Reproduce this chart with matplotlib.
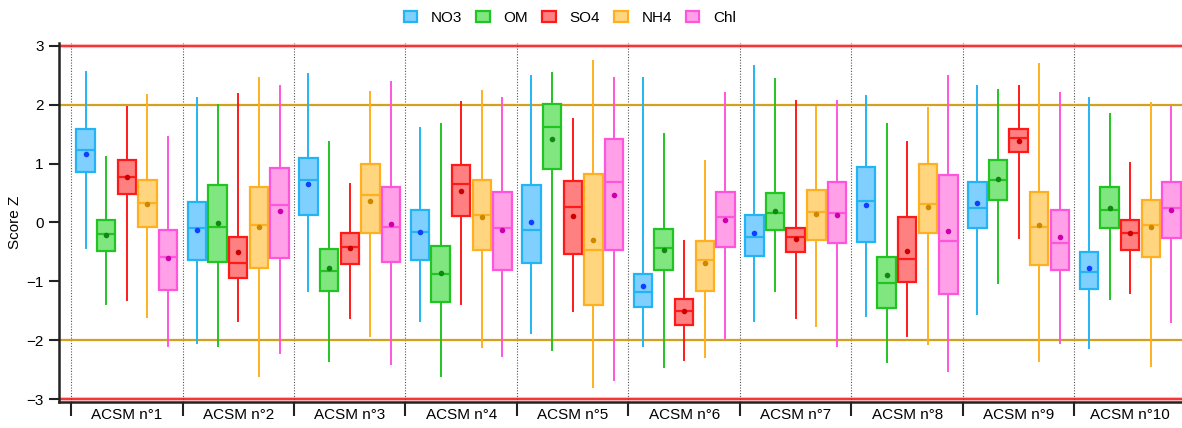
import matplotlib

matplotlib.use("Agg")
import matplotlib.pyplot as plt
from matplotlib.patches import Patch

plt.rcParams["font.family"] = ["Liberation Sans", "DejaVu Sans"]

groups = [f"ACSM n°{i}" for i in range(1, 11)]
species = ["NO3", "OM", "SO4", "NH4", "Chl"]

edge_colors = ["#22b4f5", "#22c422", "#ff1a1a", "#ffb020", "#ff55dd"]
face_colors = ["#80d0ff", "#80e680", "#ff8080", "#ffd580", "#ffa0e8"]
mean_colors = ["#1040ff", "#118811", "#cc0000", "#cc8800", "#cc00aa"]

# one row per ACSM, one column per species
whisker_hi = [
    [2.56, 1.12, 1.96, 2.17, 1.46],
    [2.11, 1.99, 2.19, 2.45, 2.31],
    [2.52, 1.37, 0.65, 2.21, 2.38],
    [1.60, 1.68, 2.05, 2.23, 2.11],
    [2.49, 2.54, 1.76, 2.74, 2.45],
    [2.45, 1.51, -0.31, 1.04, 2.20],
    [2.66, 2.44, 2.06, 1.96, 2.07],
    [2.15, 1.67, 1.37, 1.94, 2.48],
    [2.32, 2.25, 2.32, 2.69, 2.20],
    [2.12, 1.84, 1.01, 2.03, 1.97],
]
q3 = [
    [1.59, 0.05, 1.06, 0.72, -0.12],
    [0.34, 0.64, -0.25, 0.61, 0.93],
    [1.10, -0.45, -0.18, 1.00, 0.60],
    [0.21, -0.40, 0.98, 0.73, 0.52],
    [0.64, 2.01, 0.70, 0.82, 1.41],
    [-0.87, -0.11, -1.30, -0.32, 0.52],
    [0.12, 0.50, -0.09, 0.55, 0.68],
    [0.94, -0.58, 0.09, 0.99, 0.81],
    [0.69, 1.06, 1.58, 0.52, 0.22],
    [-0.50, 0.60, 0.05, 0.38, 0.69],
]
median = [
    [1.23, -0.20, 0.78, 0.33, -0.59],
    [-0.09, -0.07, -0.69, -0.04, 0.29],
    [0.73, -0.82, -0.42, 0.46, -0.07],
    [-0.16, -0.88, 0.65, 0.13, -0.09],
    [-0.13, 1.62, 0.26, -0.47, 0.68],
    [-1.18, -0.43, -1.50, -0.64, 0.09],
    [-0.25, 0.16, -0.25, 0.18, 0.16],
    [0.36, -1.02, -0.62, 0.31, -0.31],
    [0.25, 0.73, 1.43, -0.08, -0.35],
    [-0.84, 0.21, -0.18, -0.05, 0.25],
]
q1 = [
    [0.86, -0.48, 0.48, -0.08, -1.15],
    [-0.64, -0.67, -0.95, -0.77, -0.60],
    [0.13, -1.16, -0.70, -0.18, -0.67],
    [-0.64, -1.35, 0.11, -0.47, -0.81],
    [-0.69, 0.90, -0.53, -1.41, -0.46],
    [-1.43, -0.80, -1.74, -1.16, -0.42],
    [-0.57, -0.13, -0.50, -0.30, -0.35],
    [-0.34, -1.45, -1.01, -0.18, -1.21],
    [-0.10, 0.39, 1.20, -0.72, -0.80],
    [-1.13, -0.10, -0.46, -0.58, -0.27],
]
whisker_lo = [
    [-0.43, -1.38, -1.32, -1.60, -2.10],
    [-2.05, -2.10, -1.68, -2.60, -2.22],
    [-1.16, -2.36, -1.62, -1.92, -2.41],
    [-1.67, -2.61, -1.39, -2.11, -2.26],
    [-1.88, -2.17, -1.50, -2.80, -2.67],
    [-2.09, -2.46, -2.33, -2.29, -1.96],
    [-1.67, -1.17, -1.62, -1.76, -2.10],
    [-1.59, -2.37, -1.93, -2.06, -2.52],
    [-1.55, -1.03, -0.26, -2.36, -2.05],
    [-2.13, -1.30, -1.20, -2.44, -1.69],
]
mean = [
    [1.17, -0.21, 0.78, 0.32, -0.61],
    [-0.12, -0.01, -0.50, -0.07, 0.19],
    [0.65, -0.77, -0.43, 0.37, -0.03],
    [-0.17, -0.85, 0.53, 0.10, -0.13],
    [0.00, 1.41, 0.11, -0.29, 0.46],
    [-1.08, -0.46, -1.50, -0.69, 0.05],
    [-0.18, 0.20, -0.28, 0.15, 0.13],
    [0.29, -0.90, -0.48, 0.27, -0.14],
    [0.33, 0.74, 1.38, -0.05, -0.25],
    [-0.78, 0.24, -0.18, -0.08, 0.22],
]

fig = plt.figure(figsize=(11.82, 4.28), dpi=100)
ax = fig.add_axes([0.050, 0.0607, 0.950, 0.839])

step = 0.185
width = 0.165
for j, name in enumerate(species):
    stats = []
    for i in range(len(groups)):
        stats.append({
            "whislo": whisker_lo[i][j], "q1": q1[i][j], "med": median[i][j],
            "q3": q3[i][j], "whishi": whisker_hi[i][j], "mean": mean[i][j],
            "fliers": [],
        })
    pos = [i + (j - 2) * step for i in range(len(groups))]
    ec = edge_colors[j]
    ax.bxp(
        stats, positions=pos, widths=width, patch_artist=True,
        showmeans=True, showcaps=False, manage_ticks=False, zorder=3,
        boxprops={"facecolor": face_colors[j], "edgecolor": ec, "linewidth": 1.6},
        medianprops={"color": ec, "linewidth": 1.6},
        whiskerprops={"color": ec, "linewidth": 1.4},
        meanprops={"marker": "o", "markersize": 3.0, "markerfacecolor": mean_colors[j],
                   "markeredgecolor": mean_colors[j]},
    )

# reference levels
for y in (3, -3):
    ax.axhline(y, color="#ffb8b8", lw=3.0, zorder=1)
    ax.axhline(y, color="#ee1111", lw=1.1, zorder=2)
for y in (2, -2):
    ax.axhline(y, color="#d4a020", lw=1.6, zorder=2)

bounds = [i - 0.5 for i in range(len(groups))]
for b in bounds:
    ax.axvline(b, color="#555555", lw=0.8, ls=(0, (1, 1.5)), zorder=1)

ax.set_xlim(-0.607, 9.465)
ax.set_ylim(-3.05, 3.05)
ax.set_yticks(range(-3, 4))
ax.set_xticks(bounds)
ax.set_xticklabels([])
ax.set_xticks(range(len(groups)), minor=True)
ax.set_xticklabels(groups, minor=True, fontsize=11)
ax.tick_params(axis="x", which="major", length=10, width=1.5, color="#222222")
ax.tick_params(axis="x", which="minor", length=0, pad=4)
ax.tick_params(axis="y", length=7.5, width=1.5, color="#222222", labelsize=11)
ax.set_ylabel("Score Z", fontsize=11, labelpad=3)

for side in ("top", "right"):
    ax.spines[side].set_visible(False)
for side in ("left", "bottom"):
    ax.spines[side].set_linewidth(1.8)
    ax.spines[side].set_color("#222222")

handles = [Patch(facecolor=face_colors[j], edgecolor=edge_colors[j], linewidth=1.6, label=s)
           for j, s in enumerate(species)]
fig.legend(handles=handles, loc="center", bbox_to_anchor=(0.482, 0.958), ncol=5,
           frameon=False, fontsize=11, handlelength=0.9, handleheight=0.75,
           columnspacing=0.9, handletextpad=0.9)

fig.savefig("out.png", dpi=100)
plt.close(fig)
